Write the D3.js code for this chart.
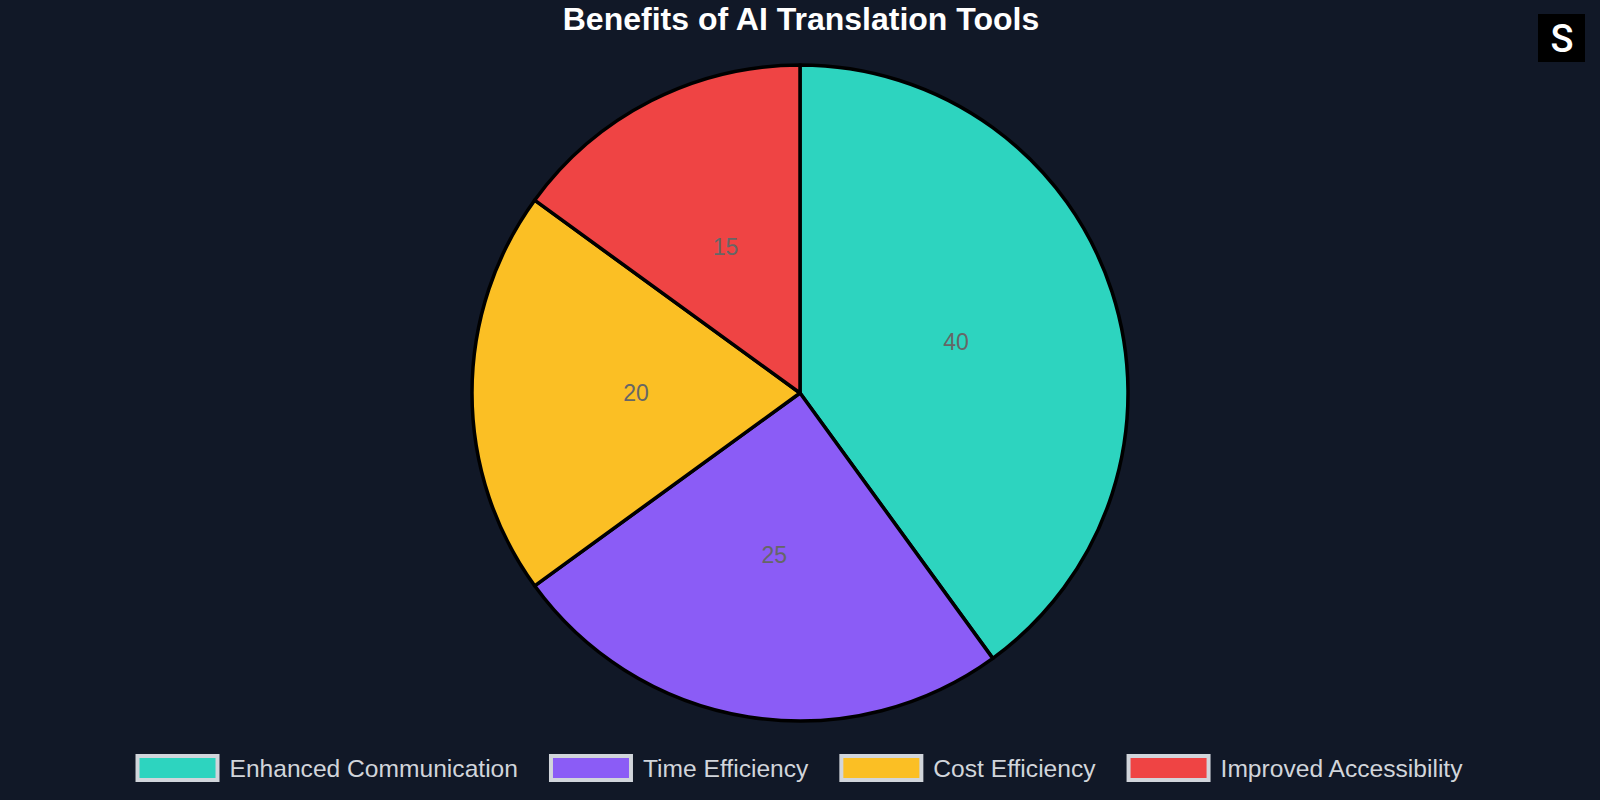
<!DOCTYPE html>
<html>
<head>
<meta charset="utf-8">
<script src="https://cdn.jsdelivr.net/npm/d3@7"></script>
<style>
html,body{margin:0;padding:0;background:#111827;}
svg{display:block;}
</style>
</head>
<body>
<svg id="chart" width="1600" height="800"></svg>
<script>
const categories = ["Enhanced Communication", "Time Efficiency", "Cost Efficiency", "Improved Accessibility"];
const values = [40, 25, 20, 15];
const colors = ["#2dd4bf", "#8b5cf6", "#fbbf24", "#ef4444"];
const title = "Benefits of AI Translation Tools";

const W = 1600, H = 800;
const cx = 800, cy = 393, R = 328;
const svg = d3.select("#chart");
svg.append("rect").attr("width", W).attr("height", H).attr("fill", "#111827");

svg.append("text").attr("x", 801).attr("y", 30).attr("text-anchor", "middle")
  .attr("font-family", "Liberation Sans, Arial, sans-serif").attr("font-weight", "bold")
  .attr("font-size", 32).attr("fill", "#ffffff").text(title);

// logo
svg.append("rect").attr("x", 1538).attr("y", 14).attr("width", 47).attr("height", 48).attr("fill", "#000");
svg.append("text").attr("x", 1562).attr("y", 52).attr("text-anchor", "middle")
  .attr("font-family", "Roboto, Liberation Sans, sans-serif").attr("font-weight", 500).attr("font-size", 38)
  .attr("fill", "#ffffff").text("S");

const color = d3.scaleOrdinal().domain(categories).range(colors);
const pie = d3.pie().sort(null).value(d => d.v);
const data = categories.map((c, i) => ({c, v: values[i]}));
const arcs = pie(data);
const arc = d3.arc().innerRadius(0).outerRadius(R);
const labelArc = d3.arc().innerRadius(R / 2).outerRadius(R / 2);

const g = svg.append("g").attr("transform", `translate(${cx},${cy})`);
g.selectAll("path").data(arcs).join("path")
  .attr("d", arc).attr("fill", d => color(d.data.c))
  .attr("stroke", "#000").attr("stroke-width", 3.5).attr("stroke-linejoin", "round");
g.selectAll("text").data(arcs).join("text")
  .attr("transform", d => `translate(${labelArc.centroid(d)})`)
  .attr("text-anchor", "middle").attr("dominant-baseline", "central")
  .attr("font-family", "Liberation Sans, Arial, sans-serif").attr("font-size", 23)
  .attr("fill", "#666666").text(d => d.data.v);

// legend
const boxW = 84, boxH = 28, gapBT = 10, gapItem = 31, ly = 768;
const leg = svg.append("g");
const items = leg.selectAll("g").data(categories).join("g");
items.append("text").attr("class", "lt")
  .attr("font-family", "Liberation Sans, Arial, sans-serif").attr("font-size", 24.6)
  .attr("fill", "#d1d5db").attr("dominant-baseline", "central").attr("y", ly).text(d => d);
const widths = [];
items.select("text").each(function(){ widths.push(this.getComputedTextLength()); });
const total = d3.sum(widths) + categories.length * (boxW + gapBT) + (categories.length - 1) * gapItem;
let x = 799 - total / 2;
items.each(function(d, i){
  const it = d3.select(this);
  it.insert("rect", "text").attr("x", x + 2).attr("y", ly - boxH / 2 + 2)
    .attr("width", boxW - 4).attr("height", boxH - 4)
    .attr("fill", color(d)).attr("stroke", "#d1d5db").attr("stroke-width", 4);
  it.select("text").attr("x", x + boxW + gapBT);
  x += boxW + gapBT + widths[i] + gapItem;
});
</script>
</body>
</html>
